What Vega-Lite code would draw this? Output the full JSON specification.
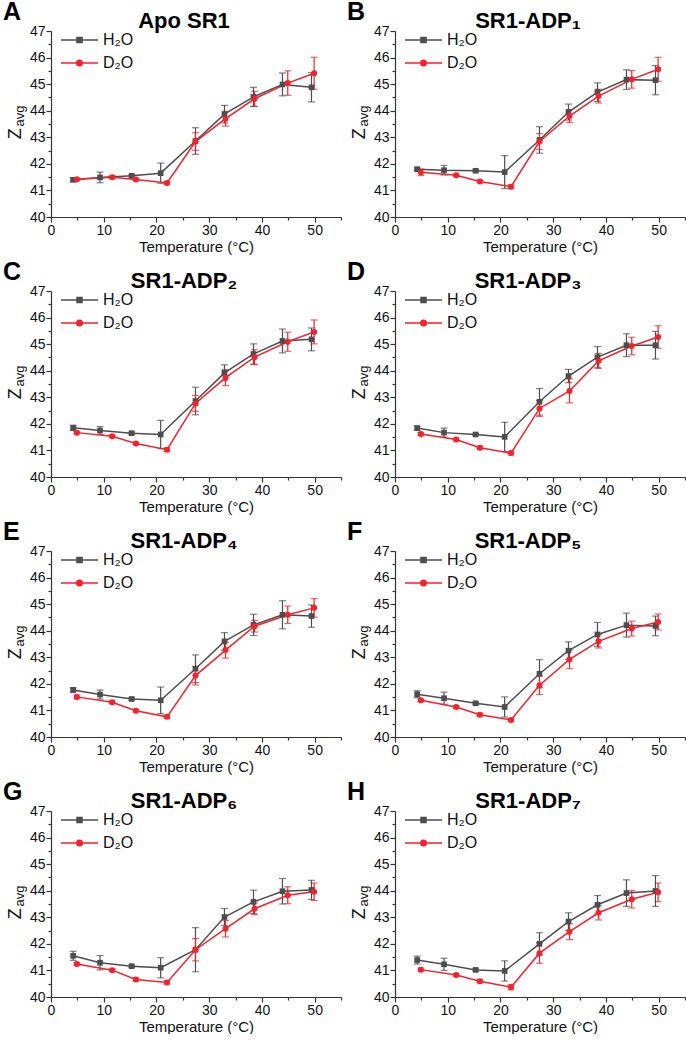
{
"$schema": "https://vega.github.io/schema/vega-lite/v6.json",
"padding": {"left": 3, "top": 0, "right": 0, "bottom": 0},
"background": "white",
"data": {"values": [
{"p":"A","s":"H₂O","t":4.2,"z":41.40,"e":0.07},{"p":"A","s":"H₂O","t":9.3,"z":41.49,"e":0.2},{"p":"A","s":"H₂O","t":15.3,"z":41.55,"e":0.04},{"p":"A","s":"H₂O","t":20.8,"z":41.65,"e":0.38},{"p":"A","s":"H₂O","t":27.4,"z":42.86,"e":0.5},{"p":"A","s":"H₂O","t":32.9,"z":43.87,"e":0.33},{"p":"A","s":"H₂O","t":38.4,"z":44.52,"e":0.36},{"p":"A","s":"H₂O","t":43.9,"z":44.99,"e":0.43},{"p":"A","s":"H₂O","t":49.4,"z":44.88,"e":0.55},
{"p":"A","s":"D₂O","t":4.9,"z":41.42,"e":0.05},{"p":"A","s":"D₂O","t":11.6,"z":41.50,"e":0.05},{"p":"A","s":"D₂O","t":16.1,"z":41.41,"e":0.05},{"p":"A","s":"D₂O","t":22.0,"z":41.28,"e":0.06},{"p":"A","s":"D₂O","t":27.4,"z":42.84,"e":0.33},{"p":"A","s":"D₂O","t":33.1,"z":43.70,"e":0.28},{"p":"A","s":"D₂O","t":38.6,"z":44.45,"e":0.28},{"p":"A","s":"D₂O","t":44.9,"z":45.04,"e":0.46},{"p":"A","s":"D₂O","t":49.9,"z":45.41,"e":0.6},
{"p":"B","s":"H₂O","t":4.2,"z":41.80,"e":0.05},{"p":"B","s":"H₂O","t":9.3,"z":41.76,"e":0.18},{"p":"B","s":"H₂O","t":15.3,"z":41.74,"e":0.04},{"p":"B","s":"H₂O","t":20.8,"z":41.69,"e":0.62},{"p":"B","s":"H₂O","t":27.4,"z":42.90,"e":0.5},{"p":"B","s":"H₂O","t":32.9,"z":43.95,"e":0.3},{"p":"B","s":"H₂O","t":38.4,"z":44.70,"e":0.35},{"p":"B","s":"H₂O","t":43.9,"z":45.17,"e":0.37},{"p":"B","s":"H₂O","t":49.4,"z":45.15,"e":0.55},
{"p":"B","s":"D₂O","t":4.9,"z":41.68,"e":0.12},{"p":"B","s":"D₂O","t":11.6,"z":41.57,"e":0.05},{"p":"B","s":"D₂O","t":16.1,"z":41.34,"e":0.05},{"p":"B","s":"D₂O","t":22.0,"z":41.14,"e":0.07},{"p":"B","s":"D₂O","t":27.4,"z":42.84,"e":0.3},{"p":"B","s":"D₂O","t":33.1,"z":43.80,"e":0.24},{"p":"B","s":"D₂O","t":38.6,"z":44.55,"e":0.26},{"p":"B","s":"D₂O","t":44.9,"z":45.18,"e":0.33},{"p":"B","s":"D₂O","t":49.9,"z":45.56,"e":0.45},
{"p":"C","s":"H₂O","t":4.2,"z":41.85,"e":0.1},{"p":"C","s":"H₂O","t":9.3,"z":41.75,"e":0.15},{"p":"C","s":"H₂O","t":15.3,"z":41.65,"e":0.04},{"p":"C","s":"H₂O","t":20.8,"z":41.60,"e":0.53},{"p":"C","s":"H₂O","t":27.4,"z":42.86,"e":0.52},{"p":"C","s":"H₂O","t":32.9,"z":43.92,"e":0.3},{"p":"C","s":"H₂O","t":38.4,"z":44.63,"e":0.38},{"p":"C","s":"H₂O","t":43.9,"z":45.12,"e":0.45},{"p":"C","s":"H₂O","t":49.4,"z":45.18,"e":0.43},
{"p":"C","s":"D₂O","t":4.9,"z":41.67,"e":0.05},{"p":"C","s":"D₂O","t":11.6,"z":41.53,"e":0.05},{"p":"C","s":"D₂O","t":16.1,"z":41.26,"e":0.05},{"p":"C","s":"D₂O","t":22.0,"z":41.03,"e":0.07},{"p":"C","s":"D₂O","t":27.4,"z":42.77,"e":0.3},{"p":"C","s":"D₂O","t":33.1,"z":43.74,"e":0.3},{"p":"C","s":"D₂O","t":38.6,"z":44.51,"e":0.28},{"p":"C","s":"D₂O","t":44.9,"z":45.09,"e":0.36},{"p":"C","s":"D₂O","t":49.9,"z":45.46,"e":0.45},
{"p":"D","s":"H₂O","t":4.2,"z":41.84,"e":0.08},{"p":"D","s":"H₂O","t":9.3,"z":41.67,"e":0.17},{"p":"D","s":"H₂O","t":15.3,"z":41.60,"e":0.04},{"p":"D","s":"H₂O","t":20.8,"z":41.51,"e":0.55},{"p":"D","s":"H₂O","t":27.4,"z":42.83,"e":0.5},{"p":"D","s":"H₂O","t":32.9,"z":43.80,"e":0.25},{"p":"D","s":"H₂O","t":38.4,"z":44.51,"e":0.4},{"p":"D","s":"H₂O","t":43.9,"z":44.96,"e":0.43},{"p":"D","s":"H₂O","t":49.4,"z":44.96,"e":0.52},
{"p":"D","s":"D₂O","t":4.9,"z":41.62,"e":0.06},{"p":"D","s":"D₂O","t":11.6,"z":41.41,"e":0.05},{"p":"D","s":"D₂O","t":16.1,"z":41.10,"e":0.06},{"p":"D","s":"D₂O","t":22.0,"z":40.90,"e":0.07},{"p":"D","s":"D₂O","t":27.4,"z":42.58,"e":0.3},{"p":"D","s":"D₂O","t":33.1,"z":43.24,"e":0.45},{"p":"D","s":"D₂O","t":38.6,"z":44.37,"e":0.28},{"p":"D","s":"D₂O","t":44.9,"z":44.93,"e":0.33},{"p":"D","s":"D₂O","t":49.9,"z":45.27,"e":0.42},
{"p":"E","s":"H₂O","t":4.2,"z":41.77,"e":0.08},{"p":"E","s":"H₂O","t":9.3,"z":41.60,"e":0.17},{"p":"E","s":"H₂O","t":15.3,"z":41.43,"e":0.04},{"p":"E","s":"H₂O","t":20.8,"z":41.38,"e":0.5},{"p":"E","s":"H₂O","t":27.4,"z":42.57,"e":0.52},{"p":"E","s":"H₂O","t":32.9,"z":43.60,"e":0.33},{"p":"E","s":"H₂O","t":38.4,"z":44.22,"e":0.4},{"p":"E","s":"H₂O","t":43.9,"z":44.60,"e":0.53},{"p":"E","s":"H₂O","t":49.4,"z":44.55,"e":0.42},
{"p":"E","s":"D₂O","t":4.9,"z":41.51,"e":0.07},{"p":"E","s":"D₂O","t":11.6,"z":41.31,"e":0.05},{"p":"E","s":"D₂O","t":16.1,"z":40.99,"e":0.05},{"p":"E","s":"D₂O","t":22.0,"z":40.76,"e":0.06},{"p":"E","s":"D₂O","t":27.4,"z":42.31,"e":0.35},{"p":"E","s":"D₂O","t":33.1,"z":43.27,"e":0.3},{"p":"E","s":"D₂O","t":38.6,"z":44.17,"e":0.22},{"p":"E","s":"D₂O","t":44.9,"z":44.60,"e":0.33},{"p":"E","s":"D₂O","t":49.9,"z":44.86,"e":0.35},
{"p":"F","s":"H₂O","t":4.2,"z":41.61,"e":0.13},{"p":"F","s":"H₂O","t":9.3,"z":41.46,"e":0.23},{"p":"F","s":"H₂O","t":15.3,"z":41.27,"e":0.04},{"p":"F","s":"H₂O","t":20.8,"z":41.13,"e":0.38},{"p":"F","s":"H₂O","t":27.4,"z":42.38,"e":0.53},{"p":"F","s":"H₂O","t":32.9,"z":43.25,"e":0.33},{"p":"F","s":"H₂O","t":38.4,"z":43.86,"e":0.45},{"p":"F","s":"H₂O","t":43.9,"z":44.21,"e":0.45},{"p":"F","s":"H₂O","t":49.4,"z":44.18,"e":0.37},
{"p":"F","s":"D₂O","t":4.9,"z":41.38,"e":0.05},{"p":"F","s":"D₂O","t":11.6,"z":41.13,"e":0.05},{"p":"F","s":"D₂O","t":16.1,"z":40.84,"e":0.06},{"p":"F","s":"D₂O","t":22.0,"z":40.64,"e":0.06},{"p":"F","s":"D₂O","t":27.4,"z":41.95,"e":0.35},{"p":"F","s":"D₂O","t":33.1,"z":42.92,"e":0.35},{"p":"F","s":"D₂O","t":38.6,"z":43.60,"e":0.25},{"p":"F","s":"D₂O","t":44.9,"z":44.08,"e":0.28},{"p":"F","s":"D₂O","t":49.9,"z":44.33,"e":0.3},
{"p":"G","s":"H₂O","t":4.2,"z":41.55,"e":0.17},{"p":"G","s":"H₂O","t":9.3,"z":41.29,"e":0.27},{"p":"G","s":"H₂O","t":15.3,"z":41.16,"e":0.04},{"p":"G","s":"H₂O","t":20.8,"z":41.10,"e":0.38},{"p":"G","s":"H₂O","t":27.4,"z":41.78,"e":0.83},{"p":"G","s":"H₂O","t":32.9,"z":43.01,"e":0.32},{"p":"G","s":"H₂O","t":38.4,"z":43.58,"e":0.44},{"p":"G","s":"H₂O","t":43.9,"z":43.98,"e":0.48},{"p":"G","s":"H₂O","t":49.4,"z":44.03,"e":0.36},
{"p":"G","s":"D₂O","t":4.9,"z":41.24,"e":0.06},{"p":"G","s":"D₂O","t":11.6,"z":41.01,"e":0.05},{"p":"G","s":"D₂O","t":16.1,"z":40.66,"e":0.06},{"p":"G","s":"D₂O","t":22.0,"z":40.55,"e":0.07},{"p":"G","s":"D₂O","t":27.4,"z":41.78,"e":0.42},{"p":"G","s":"D₂O","t":33.1,"z":42.57,"e":0.31},{"p":"G","s":"D₂O","t":38.6,"z":43.32,"e":0.22},{"p":"G","s":"D₂O","t":44.9,"z":43.83,"e":0.32},{"p":"G","s":"D₂O","t":49.9,"z":43.96,"e":0.33},
{"p":"H","s":"H₂O","t":4.2,"z":41.39,"e":0.15},{"p":"H","s":"H₂O","t":9.3,"z":41.23,"e":0.23},{"p":"H","s":"H₂O","t":15.3,"z":41.02,"e":0.04},{"p":"H","s":"H₂O","t":20.8,"z":40.98,"e":0.38},{"p":"H","s":"H₂O","t":27.4,"z":42.00,"e":0.42},{"p":"H","s":"H₂O","t":32.9,"z":42.84,"e":0.33},{"p":"H","s":"H₂O","t":38.4,"z":43.47,"e":0.35},{"p":"H","s":"H₂O","t":43.9,"z":43.91,"e":0.5},{"p":"H","s":"H₂O","t":49.4,"z":43.99,"e":0.58},
{"p":"H","s":"D₂O","t":4.9,"z":41.03,"e":0.06},{"p":"H","s":"D₂O","t":11.6,"z":40.83,"e":0.05},{"p":"H","s":"D₂O","t":16.1,"z":40.59,"e":0.06},{"p":"H","s":"D₂O","t":22.0,"z":40.37,"e":0.1},{"p":"H","s":"D₂O","t":27.4,"z":41.65,"e":0.38},{"p":"H","s":"D₂O","t":33.1,"z":42.46,"e":0.3},{"p":"H","s":"D₂O","t":38.6,"z":43.17,"e":0.27},{"p":"H","s":"D₂O","t":44.9,"z":43.68,"e":0.33},{"p":"H","s":"D₂O","t":49.9,"z":43.94,"e":0.35}
]},
"columns": 2,
"spacing": {"row": 74, "column": 54},
"bounds": "flush",
"resolve": {"scale": {"color": "independent"}},
"concat": [
{"width": 290, "height": 186, "title": {"text": "Apo SR1"}, "transform": [{"filter": "datum.p === 'A'"}],
 "encoding": {
  "x": {"field": "t", "type": "quantitative", "scale": {"domain": [0, 55], "nice": false, "zero": false}, "axis": {"values": [0,5,10,15,20,25,30,35,40,45,50,55], "labelExpr": "datum.value % 10 === 0 && datum.value <= 50 ? datum.label : ''", "tickSize": {"condition": {"test": "datum.value % 10 === 0", "value": 5}, "value": 3}, "title": "Temperature (°C)"}},
  "y": {"field": "z", "type": "quantitative", "scale": {"domain": [40, 47], "nice": false, "zero": false}, "axis": {"values": [40,40.5,41,41.5,42,42.5,43,43.5,44,44.5,45,45.5,46,46.5,47], "format": ".0f", "labelExpr": "datum.value % 1 === 0 ? datum.label : ''", "tickSize": {"condition": {"test": "datum.value % 1 === 0", "value": 5}, "value": 3}, "title": null}},
  "color": {"field": "s", "type": "nominal", "scale": {"domain": ["H₂O", "D₂O"], "range": ["#4d4d4d", "#f5222d"]}, "legend": {"encode": {"symbols": {"update": {"shape": {"signal": "datum.value === 'H₂O' ? 'M0.2,0H7.6M3.4,-0.5H4.4V0.5H3.4Z' : 'M0.2,0H7.6M4.45,0A0.55,0.55,0,1,1,3.35,0A0.55,0.55,0,1,1,4.45,0Z'"}, "fill": {"signal": "datum.value === 'H₂O' ? '#4d4d4d' : '#f5222d'"}, "stroke": {"signal": "datum.value === 'H₂O' ? '#4d4d4d' : '#f5222d'"}, "strokeWidth": {"value": 1.5}, "opacity": {"value": 1}}}}}}
 },
 "layer": [
  {"mark": {"type": "errorbar", "ticks": {"size": 7}, "thickness": 1.2}, "encoding": {"yError": {"field": "e"}}},
  {"mark": {"type": "line", "strokeWidth": 1.5}},
  {"transform": [{"filter": "datum.s === 'H₂O'"}], "mark": {"type": "point", "shape": "square", "filled": true, "opacity": 1, "size": 32}},
  {"transform": [{"filter": "datum.s === 'D₂O'"}], "mark": {"type": "point", "shape": "circle", "filled": true, "opacity": 1, "size": 36}},
  {"transform": [{"filter": "datum.s === 'H₂O' && datum.t === 4.2"}], "mark": {"type": "text", "fontSize": 25, "fontWeight": "bold", "align": "left", "baseline": "alphabetic"}, "encoding": {"x": {"datum": -9.1}, "y": {"datum": 47.41}, "text": {"value": "A"}, "color": {"value": "#000"}}},
  {"transform": [{"filter": "datum.s === 'H₂O' && datum.t === 4.2"}], "mark": {"type": "text", "fontSize": 18, "angle": 270, "align": "center", "baseline": "middle"}, "encoding": {"x": {"datum": -6.7}, "y": {"datum": 43.13}, "text": {"value": "Z"}, "color": {"value": "#111"}}},
  {"transform": [{"filter": "datum.s === 'H₂O' && datum.t === 4.2"}], "mark": {"type": "text", "fontSize": 13, "angle": 270, "align": "center", "baseline": "middle"}, "encoding": {"x": {"datum": -5.8}, "y": {"datum": 43.8}, "text": {"value": "avg"}, "color": {"value": "#111"}}}
 ]},
{"width": 290, "height": 186, "title": {"text": "SR1-ADP₁"}, "transform": [{"filter": "datum.p === 'B'"}],
 "encoding": {
  "x": {"field": "t", "type": "quantitative", "scale": {"domain": [0, 55], "nice": false, "zero": false}, "axis": {"values": [0,5,10,15,20,25,30,35,40,45,50,55], "labelExpr": "datum.value % 10 === 0 && datum.value <= 50 ? datum.label : ''", "tickSize": {"condition": {"test": "datum.value % 10 === 0", "value": 5}, "value": 3}, "title": "Temperature (°C)"}},
  "y": {"field": "z", "type": "quantitative", "scale": {"domain": [40, 47], "nice": false, "zero": false}, "axis": {"values": [40,40.5,41,41.5,42,42.5,43,43.5,44,44.5,45,45.5,46,46.5,47], "format": ".0f", "labelExpr": "datum.value % 1 === 0 ? datum.label : ''", "tickSize": {"condition": {"test": "datum.value % 1 === 0", "value": 5}, "value": 3}, "title": null}},
  "color": {"field": "s", "type": "nominal", "scale": {"domain": ["H₂O", "D₂O"], "range": ["#4d4d4d", "#f5222d"]}, "legend": {"encode": {"symbols": {"update": {"shape": {"signal": "datum.value === 'H₂O' ? 'M0.2,0H7.6M3.4,-0.5H4.4V0.5H3.4Z' : 'M0.2,0H7.6M4.45,0A0.55,0.55,0,1,1,3.35,0A0.55,0.55,0,1,1,4.45,0Z'"}, "fill": {"signal": "datum.value === 'H₂O' ? '#4d4d4d' : '#f5222d'"}, "stroke": {"signal": "datum.value === 'H₂O' ? '#4d4d4d' : '#f5222d'"}, "strokeWidth": {"value": 1.5}, "opacity": {"value": 1}}}}}}
 },
 "layer": [
  {"mark": {"type": "errorbar", "ticks": {"size": 7}, "thickness": 1.2}, "encoding": {"yError": {"field": "e"}}},
  {"mark": {"type": "line", "strokeWidth": 1.5}},
  {"transform": [{"filter": "datum.s === 'H₂O'"}], "mark": {"type": "point", "shape": "square", "filled": true, "opacity": 1, "size": 32}},
  {"transform": [{"filter": "datum.s === 'D₂O'"}], "mark": {"type": "point", "shape": "circle", "filled": true, "opacity": 1, "size": 36}},
  {"transform": [{"filter": "datum.s === 'H₂O' && datum.t === 4.2"}], "mark": {"type": "text", "fontSize": 25, "fontWeight": "bold", "align": "left", "baseline": "alphabetic"}, "encoding": {"x": {"datum": -9.1}, "y": {"datum": 47.41}, "text": {"value": "B"}, "color": {"value": "#000"}}},
  {"transform": [{"filter": "datum.s === 'H₂O' && datum.t === 4.2"}], "mark": {"type": "text", "fontSize": 18, "angle": 270, "align": "center", "baseline": "middle"}, "encoding": {"x": {"datum": -6.7}, "y": {"datum": 43.13}, "text": {"value": "Z"}, "color": {"value": "#111"}}},
  {"transform": [{"filter": "datum.s === 'H₂O' && datum.t === 4.2"}], "mark": {"type": "text", "fontSize": 13, "angle": 270, "align": "center", "baseline": "middle"}, "encoding": {"x": {"datum": -5.8}, "y": {"datum": 43.8}, "text": {"value": "avg"}, "color": {"value": "#111"}}}
 ]},
{"width": 290, "height": 186, "title": {"text": "SR1-ADP₂"}, "transform": [{"filter": "datum.p === 'C'"}],
 "encoding": {
  "x": {"field": "t", "type": "quantitative", "scale": {"domain": [0, 55], "nice": false, "zero": false}, "axis": {"values": [0,5,10,15,20,25,30,35,40,45,50,55], "labelExpr": "datum.value % 10 === 0 && datum.value <= 50 ? datum.label : ''", "tickSize": {"condition": {"test": "datum.value % 10 === 0", "value": 5}, "value": 3}, "title": "Temperature (°C)"}},
  "y": {"field": "z", "type": "quantitative", "scale": {"domain": [40, 47], "nice": false, "zero": false}, "axis": {"values": [40,40.5,41,41.5,42,42.5,43,43.5,44,44.5,45,45.5,46,46.5,47], "format": ".0f", "labelExpr": "datum.value % 1 === 0 ? datum.label : ''", "tickSize": {"condition": {"test": "datum.value % 1 === 0", "value": 5}, "value": 3}, "title": null}},
  "color": {"field": "s", "type": "nominal", "scale": {"domain": ["H₂O", "D₂O"], "range": ["#4d4d4d", "#f5222d"]}, "legend": {"encode": {"symbols": {"update": {"shape": {"signal": "datum.value === 'H₂O' ? 'M0.2,0H7.6M3.4,-0.5H4.4V0.5H3.4Z' : 'M0.2,0H7.6M4.45,0A0.55,0.55,0,1,1,3.35,0A0.55,0.55,0,1,1,4.45,0Z'"}, "fill": {"signal": "datum.value === 'H₂O' ? '#4d4d4d' : '#f5222d'"}, "stroke": {"signal": "datum.value === 'H₂O' ? '#4d4d4d' : '#f5222d'"}, "strokeWidth": {"value": 1.5}, "opacity": {"value": 1}}}}}}
 },
 "layer": [
  {"mark": {"type": "errorbar", "ticks": {"size": 7}, "thickness": 1.2}, "encoding": {"yError": {"field": "e"}}},
  {"mark": {"type": "line", "strokeWidth": 1.5}},
  {"transform": [{"filter": "datum.s === 'H₂O'"}], "mark": {"type": "point", "shape": "square", "filled": true, "opacity": 1, "size": 32}},
  {"transform": [{"filter": "datum.s === 'D₂O'"}], "mark": {"type": "point", "shape": "circle", "filled": true, "opacity": 1, "size": 36}},
  {"transform": [{"filter": "datum.s === 'H₂O' && datum.t === 4.2"}], "mark": {"type": "text", "fontSize": 25, "fontWeight": "bold", "align": "left", "baseline": "alphabetic"}, "encoding": {"x": {"datum": -9.1}, "y": {"datum": 47.41}, "text": {"value": "C"}, "color": {"value": "#000"}}},
  {"transform": [{"filter": "datum.s === 'H₂O' && datum.t === 4.2"}], "mark": {"type": "text", "fontSize": 18, "angle": 270, "align": "center", "baseline": "middle"}, "encoding": {"x": {"datum": -6.7}, "y": {"datum": 43.13}, "text": {"value": "Z"}, "color": {"value": "#111"}}},
  {"transform": [{"filter": "datum.s === 'H₂O' && datum.t === 4.2"}], "mark": {"type": "text", "fontSize": 13, "angle": 270, "align": "center", "baseline": "middle"}, "encoding": {"x": {"datum": -5.8}, "y": {"datum": 43.8}, "text": {"value": "avg"}, "color": {"value": "#111"}}}
 ]},
{"width": 290, "height": 186, "title": {"text": "SR1-ADP₃"}, "transform": [{"filter": "datum.p === 'D'"}],
 "encoding": {
  "x": {"field": "t", "type": "quantitative", "scale": {"domain": [0, 55], "nice": false, "zero": false}, "axis": {"values": [0,5,10,15,20,25,30,35,40,45,50,55], "labelExpr": "datum.value % 10 === 0 && datum.value <= 50 ? datum.label : ''", "tickSize": {"condition": {"test": "datum.value % 10 === 0", "value": 5}, "value": 3}, "title": "Temperature (°C)"}},
  "y": {"field": "z", "type": "quantitative", "scale": {"domain": [40, 47], "nice": false, "zero": false}, "axis": {"values": [40,40.5,41,41.5,42,42.5,43,43.5,44,44.5,45,45.5,46,46.5,47], "format": ".0f", "labelExpr": "datum.value % 1 === 0 ? datum.label : ''", "tickSize": {"condition": {"test": "datum.value % 1 === 0", "value": 5}, "value": 3}, "title": null}},
  "color": {"field": "s", "type": "nominal", "scale": {"domain": ["H₂O", "D₂O"], "range": ["#4d4d4d", "#f5222d"]}, "legend": {"encode": {"symbols": {"update": {"shape": {"signal": "datum.value === 'H₂O' ? 'M0.2,0H7.6M3.4,-0.5H4.4V0.5H3.4Z' : 'M0.2,0H7.6M4.45,0A0.55,0.55,0,1,1,3.35,0A0.55,0.55,0,1,1,4.45,0Z'"}, "fill": {"signal": "datum.value === 'H₂O' ? '#4d4d4d' : '#f5222d'"}, "stroke": {"signal": "datum.value === 'H₂O' ? '#4d4d4d' : '#f5222d'"}, "strokeWidth": {"value": 1.5}, "opacity": {"value": 1}}}}}}
 },
 "layer": [
  {"mark": {"type": "errorbar", "ticks": {"size": 7}, "thickness": 1.2}, "encoding": {"yError": {"field": "e"}}},
  {"mark": {"type": "line", "strokeWidth": 1.5}},
  {"transform": [{"filter": "datum.s === 'H₂O'"}], "mark": {"type": "point", "shape": "square", "filled": true, "opacity": 1, "size": 32}},
  {"transform": [{"filter": "datum.s === 'D₂O'"}], "mark": {"type": "point", "shape": "circle", "filled": true, "opacity": 1, "size": 36}},
  {"transform": [{"filter": "datum.s === 'H₂O' && datum.t === 4.2"}], "mark": {"type": "text", "fontSize": 25, "fontWeight": "bold", "align": "left", "baseline": "alphabetic"}, "encoding": {"x": {"datum": -9.1}, "y": {"datum": 47.41}, "text": {"value": "D"}, "color": {"value": "#000"}}},
  {"transform": [{"filter": "datum.s === 'H₂O' && datum.t === 4.2"}], "mark": {"type": "text", "fontSize": 18, "angle": 270, "align": "center", "baseline": "middle"}, "encoding": {"x": {"datum": -6.7}, "y": {"datum": 43.13}, "text": {"value": "Z"}, "color": {"value": "#111"}}},
  {"transform": [{"filter": "datum.s === 'H₂O' && datum.t === 4.2"}], "mark": {"type": "text", "fontSize": 13, "angle": 270, "align": "center", "baseline": "middle"}, "encoding": {"x": {"datum": -5.8}, "y": {"datum": 43.8}, "text": {"value": "avg"}, "color": {"value": "#111"}}}
 ]},
{"width": 290, "height": 186, "title": {"text": "SR1-ADP₄"}, "transform": [{"filter": "datum.p === 'E'"}],
 "encoding": {
  "x": {"field": "t", "type": "quantitative", "scale": {"domain": [0, 55], "nice": false, "zero": false}, "axis": {"values": [0,5,10,15,20,25,30,35,40,45,50,55], "labelExpr": "datum.value % 10 === 0 && datum.value <= 50 ? datum.label : ''", "tickSize": {"condition": {"test": "datum.value % 10 === 0", "value": 5}, "value": 3}, "title": "Temperature (°C)"}},
  "y": {"field": "z", "type": "quantitative", "scale": {"domain": [40, 47], "nice": false, "zero": false}, "axis": {"values": [40,40.5,41,41.5,42,42.5,43,43.5,44,44.5,45,45.5,46,46.5,47], "format": ".0f", "labelExpr": "datum.value % 1 === 0 ? datum.label : ''", "tickSize": {"condition": {"test": "datum.value % 1 === 0", "value": 5}, "value": 3}, "title": null}},
  "color": {"field": "s", "type": "nominal", "scale": {"domain": ["H₂O", "D₂O"], "range": ["#4d4d4d", "#f5222d"]}, "legend": {"encode": {"symbols": {"update": {"shape": {"signal": "datum.value === 'H₂O' ? 'M0.2,0H7.6M3.4,-0.5H4.4V0.5H3.4Z' : 'M0.2,0H7.6M4.45,0A0.55,0.55,0,1,1,3.35,0A0.55,0.55,0,1,1,4.45,0Z'"}, "fill": {"signal": "datum.value === 'H₂O' ? '#4d4d4d' : '#f5222d'"}, "stroke": {"signal": "datum.value === 'H₂O' ? '#4d4d4d' : '#f5222d'"}, "strokeWidth": {"value": 1.5}, "opacity": {"value": 1}}}}}}
 },
 "layer": [
  {"mark": {"type": "errorbar", "ticks": {"size": 7}, "thickness": 1.2}, "encoding": {"yError": {"field": "e"}}},
  {"mark": {"type": "line", "strokeWidth": 1.5}},
  {"transform": [{"filter": "datum.s === 'H₂O'"}], "mark": {"type": "point", "shape": "square", "filled": true, "opacity": 1, "size": 32}},
  {"transform": [{"filter": "datum.s === 'D₂O'"}], "mark": {"type": "point", "shape": "circle", "filled": true, "opacity": 1, "size": 36}},
  {"transform": [{"filter": "datum.s === 'H₂O' && datum.t === 4.2"}], "mark": {"type": "text", "fontSize": 25, "fontWeight": "bold", "align": "left", "baseline": "alphabetic"}, "encoding": {"x": {"datum": -9.1}, "y": {"datum": 47.41}, "text": {"value": "E"}, "color": {"value": "#000"}}},
  {"transform": [{"filter": "datum.s === 'H₂O' && datum.t === 4.2"}], "mark": {"type": "text", "fontSize": 18, "angle": 270, "align": "center", "baseline": "middle"}, "encoding": {"x": {"datum": -6.7}, "y": {"datum": 43.13}, "text": {"value": "Z"}, "color": {"value": "#111"}}},
  {"transform": [{"filter": "datum.s === 'H₂O' && datum.t === 4.2"}], "mark": {"type": "text", "fontSize": 13, "angle": 270, "align": "center", "baseline": "middle"}, "encoding": {"x": {"datum": -5.8}, "y": {"datum": 43.8}, "text": {"value": "avg"}, "color": {"value": "#111"}}}
 ]},
{"width": 290, "height": 186, "title": {"text": "SR1-ADP₅"}, "transform": [{"filter": "datum.p === 'F'"}],
 "encoding": {
  "x": {"field": "t", "type": "quantitative", "scale": {"domain": [0, 55], "nice": false, "zero": false}, "axis": {"values": [0,5,10,15,20,25,30,35,40,45,50,55], "labelExpr": "datum.value % 10 === 0 && datum.value <= 50 ? datum.label : ''", "tickSize": {"condition": {"test": "datum.value % 10 === 0", "value": 5}, "value": 3}, "title": "Temperature (°C)"}},
  "y": {"field": "z", "type": "quantitative", "scale": {"domain": [40, 47], "nice": false, "zero": false}, "axis": {"values": [40,40.5,41,41.5,42,42.5,43,43.5,44,44.5,45,45.5,46,46.5,47], "format": ".0f", "labelExpr": "datum.value % 1 === 0 ? datum.label : ''", "tickSize": {"condition": {"test": "datum.value % 1 === 0", "value": 5}, "value": 3}, "title": null}},
  "color": {"field": "s", "type": "nominal", "scale": {"domain": ["H₂O", "D₂O"], "range": ["#4d4d4d", "#f5222d"]}, "legend": {"encode": {"symbols": {"update": {"shape": {"signal": "datum.value === 'H₂O' ? 'M0.2,0H7.6M3.4,-0.5H4.4V0.5H3.4Z' : 'M0.2,0H7.6M4.45,0A0.55,0.55,0,1,1,3.35,0A0.55,0.55,0,1,1,4.45,0Z'"}, "fill": {"signal": "datum.value === 'H₂O' ? '#4d4d4d' : '#f5222d'"}, "stroke": {"signal": "datum.value === 'H₂O' ? '#4d4d4d' : '#f5222d'"}, "strokeWidth": {"value": 1.5}, "opacity": {"value": 1}}}}}}
 },
 "layer": [
  {"mark": {"type": "errorbar", "ticks": {"size": 7}, "thickness": 1.2}, "encoding": {"yError": {"field": "e"}}},
  {"mark": {"type": "line", "strokeWidth": 1.5}},
  {"transform": [{"filter": "datum.s === 'H₂O'"}], "mark": {"type": "point", "shape": "square", "filled": true, "opacity": 1, "size": 32}},
  {"transform": [{"filter": "datum.s === 'D₂O'"}], "mark": {"type": "point", "shape": "circle", "filled": true, "opacity": 1, "size": 36}},
  {"transform": [{"filter": "datum.s === 'H₂O' && datum.t === 4.2"}], "mark": {"type": "text", "fontSize": 25, "fontWeight": "bold", "align": "left", "baseline": "alphabetic"}, "encoding": {"x": {"datum": -9.1}, "y": {"datum": 47.41}, "text": {"value": "F"}, "color": {"value": "#000"}}},
  {"transform": [{"filter": "datum.s === 'H₂O' && datum.t === 4.2"}], "mark": {"type": "text", "fontSize": 18, "angle": 270, "align": "center", "baseline": "middle"}, "encoding": {"x": {"datum": -6.7}, "y": {"datum": 43.13}, "text": {"value": "Z"}, "color": {"value": "#111"}}},
  {"transform": [{"filter": "datum.s === 'H₂O' && datum.t === 4.2"}], "mark": {"type": "text", "fontSize": 13, "angle": 270, "align": "center", "baseline": "middle"}, "encoding": {"x": {"datum": -5.8}, "y": {"datum": 43.8}, "text": {"value": "avg"}, "color": {"value": "#111"}}}
 ]},
{"width": 290, "height": 186, "title": {"text": "SR1-ADP₆"}, "transform": [{"filter": "datum.p === 'G'"}],
 "encoding": {
  "x": {"field": "t", "type": "quantitative", "scale": {"domain": [0, 55], "nice": false, "zero": false}, "axis": {"values": [0,5,10,15,20,25,30,35,40,45,50,55], "labelExpr": "datum.value % 10 === 0 && datum.value <= 50 ? datum.label : ''", "tickSize": {"condition": {"test": "datum.value % 10 === 0", "value": 5}, "value": 3}, "title": "Temperature (°C)"}},
  "y": {"field": "z", "type": "quantitative", "scale": {"domain": [40, 47], "nice": false, "zero": false}, "axis": {"values": [40,40.5,41,41.5,42,42.5,43,43.5,44,44.5,45,45.5,46,46.5,47], "format": ".0f", "labelExpr": "datum.value % 1 === 0 ? datum.label : ''", "tickSize": {"condition": {"test": "datum.value % 1 === 0", "value": 5}, "value": 3}, "title": null}},
  "color": {"field": "s", "type": "nominal", "scale": {"domain": ["H₂O", "D₂O"], "range": ["#4d4d4d", "#f5222d"]}, "legend": {"encode": {"symbols": {"update": {"shape": {"signal": "datum.value === 'H₂O' ? 'M0.2,0H7.6M3.4,-0.5H4.4V0.5H3.4Z' : 'M0.2,0H7.6M4.45,0A0.55,0.55,0,1,1,3.35,0A0.55,0.55,0,1,1,4.45,0Z'"}, "fill": {"signal": "datum.value === 'H₂O' ? '#4d4d4d' : '#f5222d'"}, "stroke": {"signal": "datum.value === 'H₂O' ? '#4d4d4d' : '#f5222d'"}, "strokeWidth": {"value": 1.5}, "opacity": {"value": 1}}}}}}
 },
 "layer": [
  {"mark": {"type": "errorbar", "ticks": {"size": 7}, "thickness": 1.2}, "encoding": {"yError": {"field": "e"}}},
  {"mark": {"type": "line", "strokeWidth": 1.5}},
  {"transform": [{"filter": "datum.s === 'H₂O'"}], "mark": {"type": "point", "shape": "square", "filled": true, "opacity": 1, "size": 32}},
  {"transform": [{"filter": "datum.s === 'D₂O'"}], "mark": {"type": "point", "shape": "circle", "filled": true, "opacity": 1, "size": 36}},
  {"transform": [{"filter": "datum.s === 'H₂O' && datum.t === 4.2"}], "mark": {"type": "text", "fontSize": 25, "fontWeight": "bold", "align": "left", "baseline": "alphabetic"}, "encoding": {"x": {"datum": -9.1}, "y": {"datum": 47.41}, "text": {"value": "G"}, "color": {"value": "#000"}}},
  {"transform": [{"filter": "datum.s === 'H₂O' && datum.t === 4.2"}], "mark": {"type": "text", "fontSize": 18, "angle": 270, "align": "center", "baseline": "middle"}, "encoding": {"x": {"datum": -6.7}, "y": {"datum": 43.13}, "text": {"value": "Z"}, "color": {"value": "#111"}}},
  {"transform": [{"filter": "datum.s === 'H₂O' && datum.t === 4.2"}], "mark": {"type": "text", "fontSize": 13, "angle": 270, "align": "center", "baseline": "middle"}, "encoding": {"x": {"datum": -5.8}, "y": {"datum": 43.8}, "text": {"value": "avg"}, "color": {"value": "#111"}}}
 ]},
{"width": 290, "height": 186, "title": {"text": "SR1-ADP₇"}, "transform": [{"filter": "datum.p === 'H'"}],
 "encoding": {
  "x": {"field": "t", "type": "quantitative", "scale": {"domain": [0, 55], "nice": false, "zero": false}, "axis": {"values": [0,5,10,15,20,25,30,35,40,45,50,55], "labelExpr": "datum.value % 10 === 0 && datum.value <= 50 ? datum.label : ''", "tickSize": {"condition": {"test": "datum.value % 10 === 0", "value": 5}, "value": 3}, "title": "Temperature (°C)"}},
  "y": {"field": "z", "type": "quantitative", "scale": {"domain": [40, 47], "nice": false, "zero": false}, "axis": {"values": [40,40.5,41,41.5,42,42.5,43,43.5,44,44.5,45,45.5,46,46.5,47], "format": ".0f", "labelExpr": "datum.value % 1 === 0 ? datum.label : ''", "tickSize": {"condition": {"test": "datum.value % 1 === 0", "value": 5}, "value": 3}, "title": null}},
  "color": {"field": "s", "type": "nominal", "scale": {"domain": ["H₂O", "D₂O"], "range": ["#4d4d4d", "#f5222d"]}, "legend": {"encode": {"symbols": {"update": {"shape": {"signal": "datum.value === 'H₂O' ? 'M0.2,0H7.6M3.4,-0.5H4.4V0.5H3.4Z' : 'M0.2,0H7.6M4.45,0A0.55,0.55,0,1,1,3.35,0A0.55,0.55,0,1,1,4.45,0Z'"}, "fill": {"signal": "datum.value === 'H₂O' ? '#4d4d4d' : '#f5222d'"}, "stroke": {"signal": "datum.value === 'H₂O' ? '#4d4d4d' : '#f5222d'"}, "strokeWidth": {"value": 1.5}, "opacity": {"value": 1}}}}}}
 },
 "layer": [
  {"mark": {"type": "errorbar", "ticks": {"size": 7}, "thickness": 1.2}, "encoding": {"yError": {"field": "e"}}},
  {"mark": {"type": "line", "strokeWidth": 1.5}},
  {"transform": [{"filter": "datum.s === 'H₂O'"}], "mark": {"type": "point", "shape": "square", "filled": true, "opacity": 1, "size": 32}},
  {"transform": [{"filter": "datum.s === 'D₂O'"}], "mark": {"type": "point", "shape": "circle", "filled": true, "opacity": 1, "size": 36}},
  {"transform": [{"filter": "datum.s === 'H₂O' && datum.t === 4.2"}], "mark": {"type": "text", "fontSize": 25, "fontWeight": "bold", "align": "left", "baseline": "alphabetic"}, "encoding": {"x": {"datum": -9.1}, "y": {"datum": 47.41}, "text": {"value": "H"}, "color": {"value": "#000"}}},
  {"transform": [{"filter": "datum.s === 'H₂O' && datum.t === 4.2"}], "mark": {"type": "text", "fontSize": 18, "angle": 270, "align": "center", "baseline": "middle"}, "encoding": {"x": {"datum": -6.7}, "y": {"datum": 43.13}, "text": {"value": "Z"}, "color": {"value": "#111"}}},
  {"transform": [{"filter": "datum.s === 'H₂O' && datum.t === 4.2"}], "mark": {"type": "text", "fontSize": 13, "angle": 270, "align": "center", "baseline": "middle"}, "encoding": {"x": {"datum": -5.8}, "y": {"datum": 43.8}, "text": {"value": "avg"}, "color": {"value": "#111"}}}
 ]}
],
"config": {
 "view": {"stroke": null},
 "font": "Liberation Sans",
 "title": {"fontSize": 22, "fontWeight": "bold", "color": "#000", "anchor": "middle", "frame": "group", "baseline": "alphabetic", "offset": -33, "dx": -12},
 "axis": {"grid": false, "domainColor": "#333", "domainWidth": 1.2, "tickColor": "#333", "tickWidth": 1.2, "labelFont": "Liberation Sans", "labelFontSize": 14, "labelColor": "#111", "labelPadding": 1, "labelOverlap": false, "labelFlush": false, "titleFont": "Liberation Sans", "titleFontSize": 15, "titleFontWeight": "normal", "titleColor": "#111", "titlePadding": 2},
 "legend": {"orient": "top-left", "title": null, "offset": 1, "padding": 0, "symbolSize": 100, "labelFontSize": 16, "labelFont": "Liberation Sans", "labelColor": "#111", "labelOffset": 35, "rowPadding": 7}
}
}
